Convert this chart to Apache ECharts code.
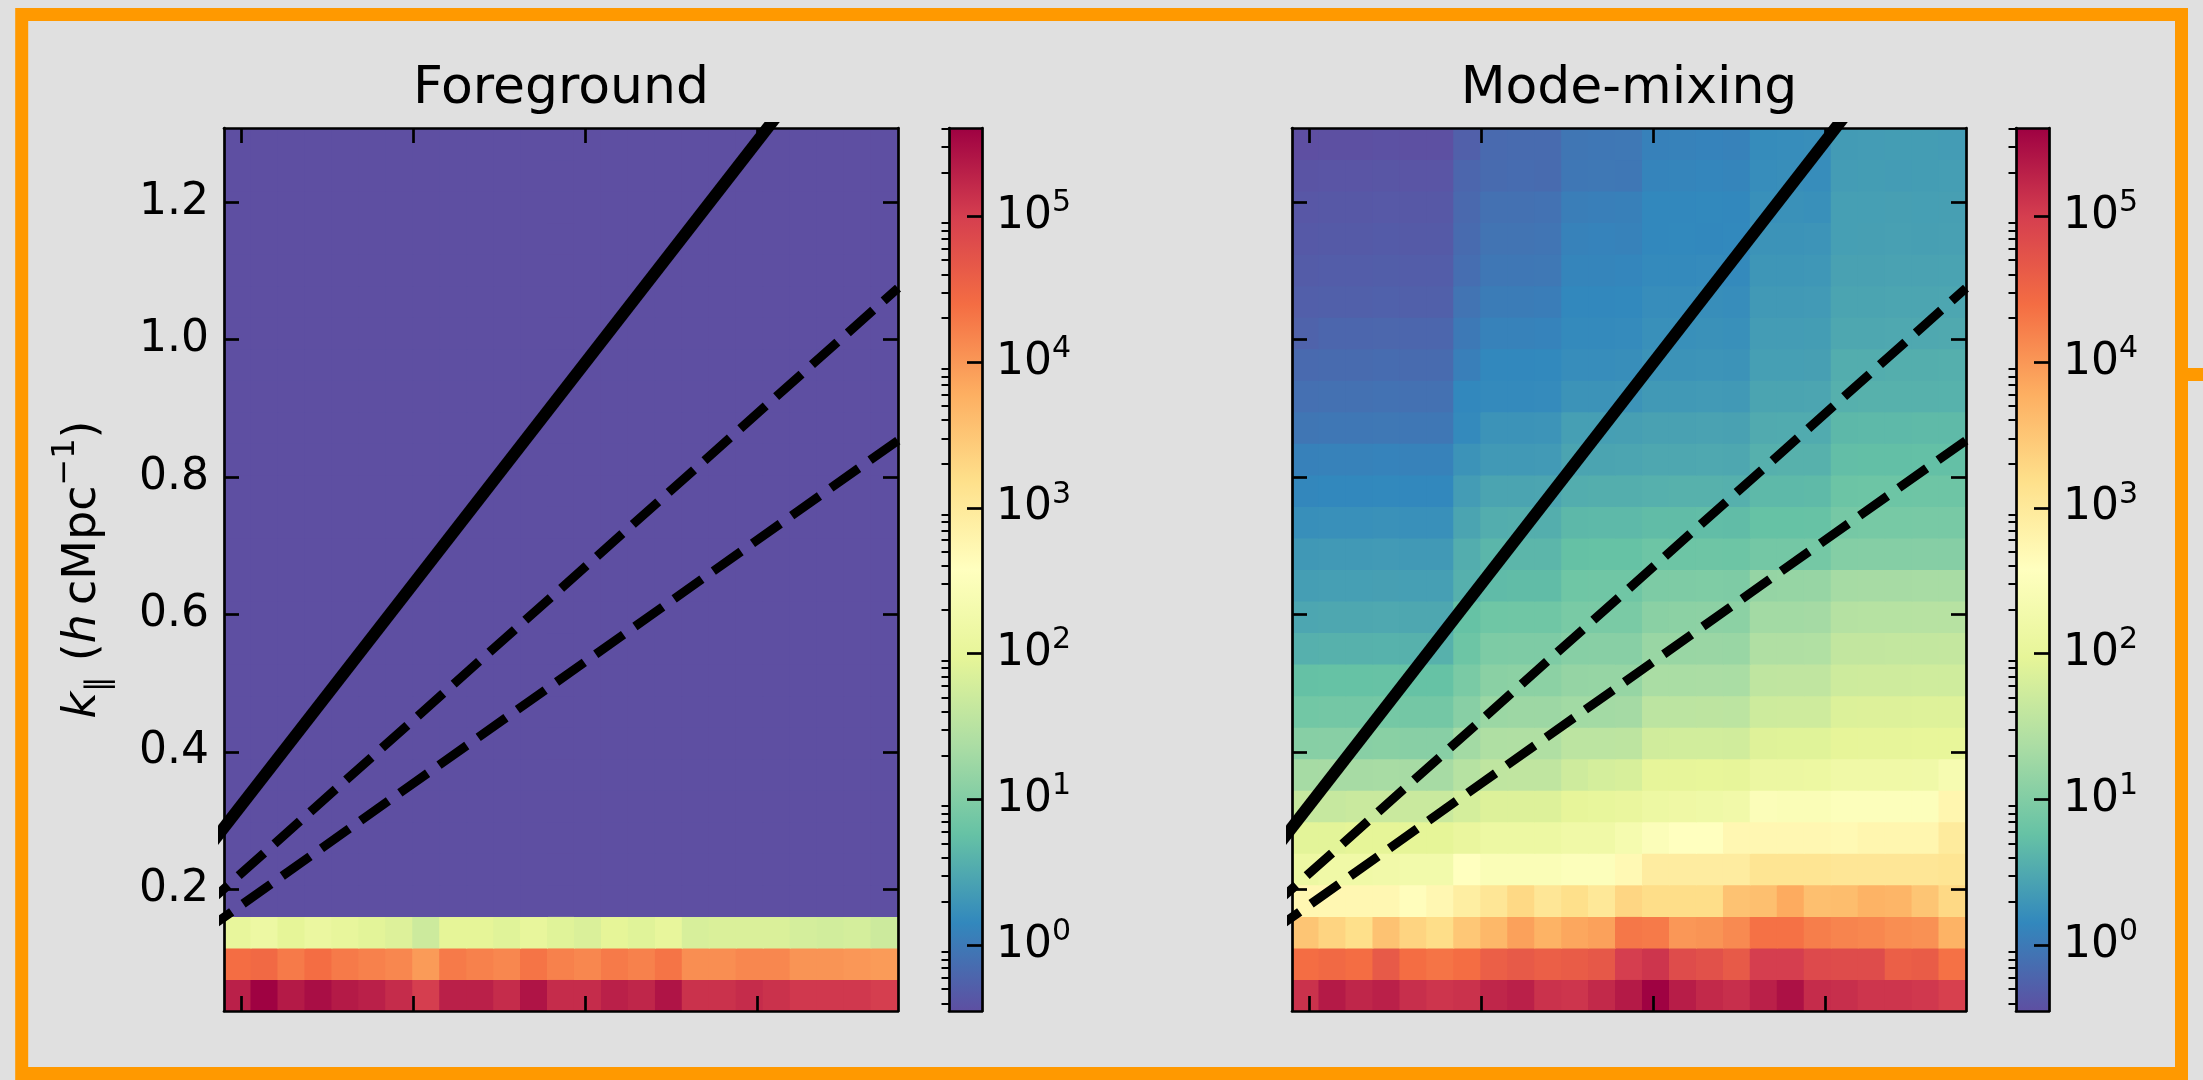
<!DOCTYPE html>
<html>
<head>
<meta charset="utf-8">
<title>Foreground and mode-mixing power</title>
<script src="https://cdn.jsdelivr.net/npm/echarts@6/dist/echarts.min.js"></script>
<style>
  html, body { margin: 0; padding: 0; background: #e0e0e0; }
  #chart { width: 2203px; height: 1080px; }
</style>
</head>
<body>
<div id="chart"></div>
<script>
// ---- binning (h cMpc^-1) ----
const kPerpCenters = [0.0979, 0.1136, 0.1293, 0.1450, 0.1607, 0.1763, 0.1920, 0.2077, 0.2234,
  0.2391, 0.2548, 0.2704, 0.2861, 0.3018, 0.3175, 0.3332, 0.3489, 0.3645, 0.3802, 0.3959,
  0.4116, 0.4273, 0.4430, 0.4586, 0.4743];
const kParCenters = [0.0459, 0.0918, 0.1377, 0.1836, 0.2295, 0.2754, 0.3213, 0.3672, 0.4131,
  0.4590, 0.5049, 0.5508, 0.5967, 0.6426, 0.6885, 0.7344, 0.7803, 0.8262, 0.8721, 0.9180,
  0.9639, 1.0098, 1.0557, 1.1016, 1.1475, 1.1934, 1.2393, 1.2852];

// ---- ticks ----
const kPerpTicks = [0.1, 0.2, 0.3, 0.4];
const kParTicks = [0.2, 0.4, 0.6, 0.8, 1.0, 1.2];
const colorbarExponents = [0, 1, 2, 3, 4, 5];
const colorbarMinorMantissas = [2, 3, 4, 5, 6, 7, 8, 9];

// ---- colour scale, log10 of the power ----
const colorRangeLog10 = [-0.451, 5.606];

// ---- wedge / horizon lines: k_par = slope * k_perp ----
const horizonSlope = 3.22;
const bufferSlopes = [2.23, 1.77];

const panelTitles = ['Foreground', 'Mode-mixing'];

// ---- log10 power, one row per k_par bin (lowest k_par first), 25 k_perp bins per row ----
const foregroundLog10 = [
  [5.30,5.60,5.36,5.48,5.36,5.30,5.18,5.00,5.30,5.30,5.18,5.42,5.18,5.18,5.30,5.24,5.42,5.12,5.12,5.18,5.12,5.06,5.06,5.06,5.00],
  [4.39,4.45,4.27,4.39,4.27,4.21,4.15,3.97,4.27,4.21,4.15,4.33,4.21,4.15,4.27,4.21,4.33,4.09,4.09,4.15,4.15,4.03,4.03,4.00,3.97],
  [2.03,2.15,1.97,2.09,2.03,1.94,1.88,1.70,1.97,1.97,1.91,2.03,1.91,1.85,1.97,1.91,2.03,1.82,1.85,1.85,1.85,1.79,1.76,1.79,1.70],
  [-3,-3,-3,-3,-3,-3,-3,-3,-3,-3,-3,-3,-3,-3,-3,-3,-3,-3,-3,-3,-3,-3,-3,-3,-3],
  [-3,-3,-3,-3,-3,-3,-3,-3,-3,-3,-3,-3,-3,-3,-3,-3,-3,-3,-3,-3,-3,-3,-3,-3,-3],
  [-3,-3,-3,-3,-3,-3,-3,-3,-3,-3,-3,-3,-3,-3,-3,-3,-3,-3,-3,-3,-3,-3,-3,-3,-3],
  [-3,-3,-3,-3,-3,-3,-3,-3,-3,-3,-3,-3,-3,-3,-3,-3,-3,-3,-3,-3,-3,-3,-3,-3,-3],
  [-3,-3,-3,-3,-3,-3,-3,-3,-3,-3,-3,-3,-3,-3,-3,-3,-3,-3,-3,-3,-3,-3,-3,-3,-3],
  [-3,-3,-3,-3,-3,-3,-3,-3,-3,-3,-3,-3,-3,-3,-3,-3,-3,-3,-3,-3,-3,-3,-3,-3,-3],
  [-3,-3,-3,-3,-3,-3,-3,-3,-3,-3,-3,-3,-3,-3,-3,-3,-3,-3,-3,-3,-3,-3,-3,-3,-3],
  [-3,-3,-3,-3,-3,-3,-3,-3,-3,-3,-3,-3,-3,-3,-3,-3,-3,-3,-3,-3,-3,-3,-3,-3,-3],
  [-3,-3,-3,-3,-3,-3,-3,-3,-3,-3,-3,-3,-3,-3,-3,-3,-3,-3,-3,-3,-3,-3,-3,-3,-3],
  [-3,-3,-3,-3,-3,-3,-3,-3,-3,-3,-3,-3,-3,-3,-3,-3,-3,-3,-3,-3,-3,-3,-3,-3,-3],
  [-3,-3,-3,-3,-3,-3,-3,-3,-3,-3,-3,-3,-3,-3,-3,-3,-3,-3,-3,-3,-3,-3,-3,-3,-3],
  [-3,-3,-3,-3,-3,-3,-3,-3,-3,-3,-3,-3,-3,-3,-3,-3,-3,-3,-3,-3,-3,-3,-3,-3,-3],
  [-3,-3,-3,-3,-3,-3,-3,-3,-3,-3,-3,-3,-3,-3,-3,-3,-3,-3,-3,-3,-3,-3,-3,-3,-3],
  [-3,-3,-3,-3,-3,-3,-3,-3,-3,-3,-3,-3,-3,-3,-3,-3,-3,-3,-3,-3,-3,-3,-3,-3,-3],
  [-3,-3,-3,-3,-3,-3,-3,-3,-3,-3,-3,-3,-3,-3,-3,-3,-3,-3,-3,-3,-3,-3,-3,-3,-3],
  [-3,-3,-3,-3,-3,-3,-3,-3,-3,-3,-3,-3,-3,-3,-3,-3,-3,-3,-3,-3,-3,-3,-3,-3,-3],
  [-3,-3,-3,-3,-3,-3,-3,-3,-3,-3,-3,-3,-3,-3,-3,-3,-3,-3,-3,-3,-3,-3,-3,-3,-3],
  [-3,-3,-3,-3,-3,-3,-3,-3,-3,-3,-3,-3,-3,-3,-3,-3,-3,-3,-3,-3,-3,-3,-3,-3,-3],
  [-3,-3,-3,-3,-3,-3,-3,-3,-3,-3,-3,-3,-3,-3,-3,-3,-3,-3,-3,-3,-3,-3,-3,-3,-3],
  [-3,-3,-3,-3,-3,-3,-3,-3,-3,-3,-3,-3,-3,-3,-3,-3,-3,-3,-3,-3,-3,-3,-3,-3,-3],
  [-3,-3,-3,-3,-3,-3,-3,-3,-3,-3,-3,-3,-3,-3,-3,-3,-3,-3,-3,-3,-3,-3,-3,-3,-3],
  [-3,-3,-3,-3,-3,-3,-3,-3,-3,-3,-3,-3,-3,-3,-3,-3,-3,-3,-3,-3,-3,-3,-3,-3,-3],
  [-3,-3,-3,-3,-3,-3,-3,-3,-3,-3,-3,-3,-3,-3,-3,-3,-3,-3,-3,-3,-3,-3,-3,-3,-3],
  [-3,-3,-3,-3,-3,-3,-3,-3,-3,-3,-3,-3,-3,-3,-3,-3,-3,-3,-3,-3,-3,-3,-3,-3,-3],
  [-3,-3,-3,-3,-3,-3,-3,-3,-3,-3,-3,-3,-3,-3,-3,-3,-3,-3,-3,-3,-3,-3,-3,-3,-3]
];

const modeMixingLog10 = [
  [5.12,5.36,5.24,5.30,5.15,5.09,5.12,5.24,5.30,5.12,5.09,5.21,5.36,5.60,5.33,5.21,5.15,5.30,5.45,5.18,5.15,5.09,5.09,5.06,4.97],
  [4.39,4.45,4.39,4.64,4.39,4.33,4.39,4.58,4.64,4.58,4.61,4.67,5.00,5.09,4.82,4.76,4.64,5.00,5.00,4.85,4.82,4.82,4.58,4.61,4.36],
  [3.51,3.33,3.18,3.55,3.33,3.21,3.48,3.67,3.91,3.73,3.85,3.91,4.30,4.27,4.00,4.03,4.12,4.36,4.36,4.24,4.18,4.15,4.09,4.06,3.73],
  [2.73,2.73,2.73,2.73,2.61,2.73,2.91,3.06,3.27,3.06,3.18,3.03,3.30,3.21,3.21,3.21,3.55,3.58,3.82,3.58,3.61,3.73,3.70,3.51,3.27],
  [2.15,2.21,2.21,2.24,2.27,2.27,2.58,2.45,2.45,2.45,2.51,2.51,2.70,2.94,2.94,2.94,2.94,3.09,3.09,3.09,3.06,3.06,3.06,3.06,3.09],
  [1.94,1.94,1.97,1.97,1.97,1.97,2.06,2.15,2.15,2.15,2.21,2.21,2.33,2.48,2.58,2.58,2.73,2.73,2.73,2.73,2.70,2.76,2.76,2.76,2.97],
  [1.64,1.64,1.67,1.67,1.67,1.67,1.79,1.88,1.88,1.88,2.00,2.03,2.06,2.15,2.18,2.20,2.24,2.48,2.45,2.45,2.51,2.51,2.51,2.51,2.76],
  [1.32,1.33,1.33,1.34,1.33,1.33,1.48,1.57,1.58,1.58,1.73,1.79,1.82,2.00,2.00,2.01,2.00,2.12,2.12,2.13,2.21,2.21,2.21,2.22,2.36],
  [1.05,1.06,1.06,1.07,1.06,1.06,1.30,1.41,1.42,1.42,1.54,1.54,1.55,1.75,1.76,1.76,1.75,1.90,1.91,1.91,1.99,2.00,2.00,2.01,2.01],
  [0.87,0.88,0.88,0.89,0.88,0.88,1.06,1.23,1.24,1.24,1.29,1.30,1.31,1.54,1.54,1.55,1.54,1.72,1.73,1.73,1.87,1.88,1.88,1.89,1.89],
  [0.75,0.76,0.76,0.77,0.76,0.76,0.94,1.08,1.09,1.09,1.17,1.18,1.18,1.36,1.36,1.37,1.36,1.57,1.58,1.58,1.72,1.73,1.73,1.74,1.74],
  [0.57,0.58,0.58,0.59,0.58,0.58,0.82,0.96,0.97,0.97,1.05,1.06,1.06,1.21,1.21,1.22,1.21,1.42,1.42,1.43,1.60,1.60,1.61,1.61,1.62],
  [0.47,0.48,0.48,0.49,0.48,0.48,0.76,0.84,0.85,0.85,0.93,0.94,0.94,1.08,1.09,1.10,1.09,1.30,1.30,1.31,1.47,1.48,1.48,1.49,1.49],
  [0.38,0.39,0.39,0.40,0.39,0.39,0.57,0.69,0.70,0.70,0.84,0.85,0.85,0.96,0.97,0.98,0.97,1.17,1.18,1.19,1.32,1.33,1.33,1.34,1.34],
  [0.32,0.33,0.33,0.34,0.33,0.33,0.54,0.63,0.64,0.64,0.75,0.76,0.76,0.82,0.82,0.83,0.82,0.88,0.88,0.89,1.02,1.03,1.03,1.04,1.04],
  [0.23,0.24,0.24,0.25,0.24,0.24,0.45,0.54,0.55,0.55,0.66,0.67,0.67,0.70,0.70,0.71,0.70,0.76,0.76,0.77,0.90,0.91,0.91,0.92,0.92],
  [0.14,0.15,0.15,0.16,0.15,0.15,0.36,0.45,0.45,0.46,0.54,0.55,0.55,0.57,0.58,0.58,0.57,0.67,0.67,0.68,0.81,0.82,0.82,0.83,0.83],
  [0.08,0.09,0.09,0.10,0.09,0.09,0.27,0.33,0.33,0.34,0.45,0.45,0.46,0.48,0.48,0.49,0.48,0.57,0.58,0.58,0.72,0.73,0.73,0.74,0.74],
  [-0.04,-0.03,-0.03,-0.02,-0.03,-0.03,0.18,0.27,0.27,0.28,0.39,0.39,0.40,0.42,0.42,0.43,0.42,0.51,0.52,0.52,0.66,0.67,0.67,0.68,0.68],
  [-0.10,-0.09,-0.09,-0.08,-0.09,-0.09,0.15,0.18,0.18,0.19,0.27,0.27,0.28,0.33,0.33,0.34,0.33,0.45,0.45,0.46,0.57,0.58,0.58,0.58,0.59],
  [-0.16,-0.15,-0.15,-0.14,-0.15,-0.15,0.06,0.15,0.15,0.16,0.21,0.21,0.22,0.27,0.27,0.28,0.27,0.39,0.39,0.40,0.54,0.54,0.55,0.55,0.56],
  [-0.24,-0.21,-0.21,-0.20,-0.21,-0.21,0.00,0.09,0.09,0.10,0.18,0.18,0.19,0.24,0.24,0.25,0.24,0.36,0.36,0.37,0.48,0.48,0.49,0.49,0.50],
  [-0.28,-0.27,-0.27,-0.26,-0.27,-0.27,-0.06,0.03,0.03,0.04,0.15,0.15,0.16,0.21,0.21,0.22,0.21,0.33,0.33,0.34,0.45,0.45,0.46,0.46,0.47],
  [-0.31,-0.30,-0.30,-0.29,-0.30,-0.30,-0.12,-0.03,-0.03,-0.02,0.12,0.12,0.13,0.18,0.18,0.19,0.18,0.30,0.30,0.31,0.42,0.42,0.43,0.43,0.44],
  [-0.34,-0.33,-0.33,-0.32,-0.33,-0.33,-0.15,-0.06,-0.06,-0.05,0.09,0.10,0.09,0.15,0.16,0.15,0.16,0.27,0.27,0.28,0.39,0.40,0.41,0.40,0.41],
  [-0.37,-0.36,-0.36,-0.35,-0.36,-0.36,-0.18,-0.09,-0.09,-0.08,0.05,0.06,0.07,0.15,0.15,0.16,0.15,0.24,0.25,0.24,0.39,0.39,0.40,0.39,0.40],
  [-0.40,-0.39,-0.39,-0.38,-0.39,-0.39,-0.21,-0.15,-0.14,-0.15,-0.03,-0.02,-0.03,0.11,0.12,0.13,0.12,0.21,0.22,0.21,0.36,0.37,0.36,0.37,0.38],
  [-0.45,-0.44,-0.44,-0.43,-0.44,-0.44,-0.27,-0.16,-0.15,-0.15,-0.04,-0.03,-0.02,0.08,0.09,0.10,0.09,0.20,0.21,0.22,0.35,0.36,0.37,0.37,0.36]
];

// ---------------------------------------------------------------------------
const FONT = 'DejaVu Sans';
const INK = '#000';
// Spectral, reversed (low = purple, high = deep red)
const spectralR = ['#5e4fa2', '#3288bd', '#66c2a5', '#abdda4', '#e6f598', '#ffffbf',
  '#fee08b', '#fdae61', '#f46d43', '#d53e4f', '#9e0142'];

const [cLo, cHi] = colorRangeLog10;
const halfPerp = (kPerpCenters[1] - kPerpCenters[0]) / 2;
const halfPar = (kParCenters[1] - kParCenters[0]) / 2;
const xLo = kPerpCenters[0] - halfPerp, xHi = kPerpCenters[kPerpCenters.length - 1] + halfPerp;
const yLo = kParCenters[0] - halfPar, yHi = kParCenters[kParCenters.length - 1] + halfPar;

// minor colourbar ticks at m * 10^e inside the colour range
const minorLogs = [];
for (let e = Math.floor(cLo); e <= Math.ceil(cHi); e++) {
  colorbarMinorMantissas.forEach(m => {
    const v = e + Math.log10(m);
    if (v > cLo && v < cHi) minorLogs.push(v);
  });
}

// panel geometry (px)
const PANEL = { top: 128, height: 883, width: 674 };
const CB_WIDTH = 33;
const panels = [
  { left: 224, cbLeft: 949, rows: foregroundLog10, title: panelTitles[0], labels: true },
  { left: 1292, cbLeft: 2016, rows: modeMixingLog10, title: panelTitles[1], labels: false }
];

const lineAxis = { show: true, onZero: false, lineStyle: { color: INK, width: 2.7 } };
const majorTick = (values) => ({ show: true, inside: true, length: 15, customValues: values,
  lineStyle: { color: INK, width: 2.7 } });
const noTick = { show: false };
const noLabel = { show: false };
const noSplit = { show: false };

const grid = [], xAxis = [], yAxis = [], series = [], title = [];

function cellData(rows) {
  const out = [];
  rows.forEach((row, r) => row.forEach((v, c) =>
    out.push([kPerpCenters[c], kParCenters[r], Math.min(cHi, Math.max(cLo, v))])));
  return out;
}

// one rectangle per (k_perp, k_par) bin, coloured by the visualMap
function renderCell(params, api) {
  const x = api.value(0), y = api.value(1);
  const a = api.coord([x - halfPerp, y - halfPar]);
  const b = api.coord([x + halfPerp, y + halfPar]);
  return {
    type: 'rect',
    shape: { x: a[0] - 0.5, y: b[1] - 0.5, width: b[0] - a[0] + 1, height: a[1] - b[1] + 1 },
    style: { fill: api.visual('color') }
  };
}

// main panels: frame axes on all four sides
panels.forEach(p => {
  const g = grid.length;
  grid.push({ left: p.left, top: PANEL.top, width: PANEL.width, height: PANEL.height });
  p.xIndex = xAxis.length;
  p.yIndex = yAxis.length;
  ['bottom', 'top'].forEach(pos => xAxis.push({
    type: 'value', gridIndex: g, position: pos, min: xLo, max: xHi, z: 10,
    axisLine: lineAxis, axisTick: majorTick(kPerpTicks), axisLabel: noLabel, splitLine: noSplit
  }));
  yAxis.push({
    type: 'value', gridIndex: g, position: 'left', min: yLo, max: yHi, z: 10,
    axisLine: lineAxis, axisTick: majorTick(kParTicks), splitLine: noSplit,
    axisLabel: p.labels ? {
      show: true, customValues: kParTicks, margin: 15, color: INK,
      fontFamily: FONT, fontSize: 44, formatter: v => Number(v).toFixed(1)
    } : noLabel,
    name: p.labels ? '{i|k}{sub|\u2225}{r| (}{i|h}{r|\u2009cMpc}{sup|\u22121}{r|)}' : '',
    nameLocation: 'middle', nameRotate: 90, nameGap: 108,
    nameTextStyle: {
      color: INK, fontFamily: FONT, fontSize: 46,
      rich: {
        i: { fontFamily: FONT, fontStyle: 'italic', fontSize: 46, lineHeight: 66, color: INK },
        r: { fontFamily: FONT, fontSize: 46, lineHeight: 66, color: INK },
        sub: { fontFamily: FONT, fontSize: 32, lineHeight: 36, verticalAlign: 'bottom', color: INK },
        sup: { fontFamily: FONT, fontSize: 32, lineHeight: 36, verticalAlign: 'top', color: INK }
      }
    }
  });
  yAxis.push({
    type: 'value', gridIndex: g, position: 'right', min: yLo, max: yHi, z: 10,
    axisLine: lineAxis, axisTick: majorTick(kParTicks), axisLabel: noLabel, splitLine: noSplit
  });
  title.push({
    text: p.title, left: p.left + PANEL.width / 2, top: 63, textAlign: 'center', padding: 0,
    textStyle: { fontFamily: FONT, fontSize: 52, fontWeight: 'normal', color: INK }
  });
});

// binned power (series 0 and 1, addressed by the visualMap)
panels.forEach(p => series.push({
  type: 'custom', xAxisIndex: p.xIndex, yAxisIndex: p.yIndex, clip: true, silent: true, z: 2,
  encode: { x: 0, y: 1 }, data: cellData(p.rows), renderItem: renderCell
}));

// horizon (solid) and buffered wedges (dashed), drawn out from the origin
const lineStyles = [
  { color: INK, width: 12, type: 'solid', cap: 'butt' },
  { color: INK, width: 9, type: [34, 14], cap: 'butt', dashOffset: 13 },
  { color: INK, width: 9, type: [34, 14], cap: 'butt', dashOffset: 27 }
];
panels.forEach(p => {
  [horizonSlope, ...bufferSlopes].forEach((m, k) => series.push({
    type: 'line', xAxisIndex: p.xIndex, yAxisIndex: p.yIndex, clip: true, silent: true, z: 5,
    symbol: 'none', lineStyle: lineStyles[k],
    data: [[0, 0], [xHi, m * xHi]]
  }));
});

// colour bars
panels.forEach(p => {
  const gc = grid.length;
  grid.push({ left: p.cbLeft, top: PANEL.top, width: CB_WIDTH, height: PANEL.height });
  const cxi = xAxis.length, cyi = yAxis.length;
  ['bottom', 'top'].forEach(pos => xAxis.push({
    type: 'value', gridIndex: gc, position: pos, min: 0, max: 1, z: 10,
    axisLine: lineAxis, axisTick: noTick, axisLabel: noLabel, splitLine: noSplit
  }));
  yAxis.push({
    type: 'value', gridIndex: gc, position: 'left', min: cLo, max: cHi, z: 10,
    axisLine: lineAxis, axisTick: noTick, axisLabel: noLabel, splitLine: noSplit
  });
  yAxis.push({
    type: 'value', gridIndex: gc, position: 'right', min: cLo, max: cHi, z: 10,
    axisLine: lineAxis, axisTick: majorTick(colorbarExponents), splitLine: noSplit,
    axisLabel: {
      show: true, customValues: colorbarExponents, margin: 14, color: INK,
      formatter: v => '{b|10}{s|' + Math.round(v) + '}',
      rich: {
        b: { fontFamily: FONT, fontSize: 44, lineHeight: 56, color: INK },
        s: { fontFamily: FONT, fontSize: 30, lineHeight: 30, verticalAlign: 'top', color: INK }
      }
    }
  });
  series.push({
    type: 'custom', xAxisIndex: cxi, yAxisIndex: cyi, silent: true, z: 2,
    encode: { x: [0, 2], y: [1, 3] },
    data: [[0, cLo, 1, cHi]],
    renderItem: (params, api) => {
      const a = api.coord([api.value(0), api.value(1)]);
      const b = api.coord([api.value(2), api.value(3)]);
      return {
        type: 'rect',
        shape: { x: a[0], y: b[1], width: b[0] - a[0], height: a[1] - b[1] },
        style: {
          fill: new echarts.graphic.LinearGradient(0, 1, 0, 0,
            spectralR.map((c, j) => ({ offset: j / (spectralR.length - 1), color: c })))
        }
      };
    }
  });

  // minor (log) ticks
  const gm = grid.length;
  grid.push({ left: p.cbLeft, top: PANEL.top, width: CB_WIDTH, height: PANEL.height });
  xAxis.push({ type: 'value', gridIndex: gm, min: 0, max: 1, show: false });
  yAxis.push({
    type: 'value', gridIndex: gm, position: 'right', min: cLo, max: cHi, z: 11,
    axisLine: { show: false }, splitLine: noSplit, axisLabel: noLabel,
    axisTick: { show: true, inside: true, length: 7.5, customValues: minorLogs,
      lineStyle: { color: INK, width: 2 } }
  });
});

const chart = echarts.init(document.getElementById('chart'), null, { renderer: 'canvas' });
chart.setOption({
  backgroundColor: '#e0e0e0',
  animation: false,
  title,
  grid, xAxis, yAxis, series,
  visualMap: {
    type: 'continuous', show: false, seriesIndex: [0, 1], dimension: 2,
    min: cLo, max: cHi, inRange: { color: spectralR }
  },
  graphic: [
    { type: 'rect', silent: true, z: 100,
      shape: { x: 21.7, y: 14.4, width: 2159.8, height: 1059.1 },
      style: { fill: null, stroke: '#ff9900', lineWidth: 13 } },
    { type: 'rect', silent: true, z: 100,
      shape: { x: 2188, y: 368, width: 15, height: 13 },
      style: { fill: '#ff9900' } }
  ]
});
</script>
</body>
</html>
